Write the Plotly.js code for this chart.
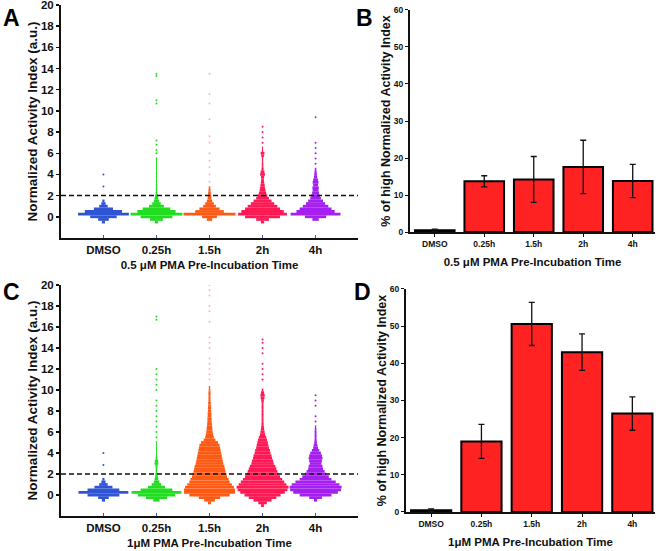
<!DOCTYPE html>
<html>
<head>
<meta charset="utf-8">
<script src="https://cdn.plot.ly/plotly-3.0.1.min.js"></script>
<style>html,body{margin:0;padding:0;background:#fff;}#chart{width:661px;height:551px;}</style>
</head>
<body>
<div id="chart"></div>
<script>
// ---------- DATA ----------
const categories = ['DMSO', '0.25h', '1.5h', '2h', '4h'];
const colors = ['#2f55d4', '#22dd22', '#ff5a14', '#ff1a55', '#a41ff0'];
const dotColors = ['#2f55d4', '#22dd22', 'rgba(240,120,140,0.55)', '#ff1a55', '#a41ff0'];
const threshold = 2;

// histogram levels (Normalized Activity Index), bin height 0.25
const levels = [-1.25, -1, -0.75, -0.5, -0.25, 0, 0.25, 0.5, 0.75, 1, 1.25, 1.5, 1.75, 2, 2.25, 2.5, 2.75, 3,
  3.25, 3.5, 3.75, 4, 4.25, 4.5, 4.75, 5, 5.25, 5.5, 5.75, 6, 6.25, 6.5, 6.75, 7, 7.25, 7.5, 7.75, 8,
  8.25, 8.5, 8.75, 9, 9.25, 9.5, 9.75, 10, 10.25, 10.5];

// Panel A (0.5 uM PMA): half-widths of each histogram level
const halfA_DMSO = [0, 0, 0, 0.03, 0.1, 0.25, 0.48, 0.35, 0.18, 0.08, 0.04, 0.02];
const halfA_025h = [0, 0, 0, 0.03, 0.12, 0.3, 0.49, 0.36, 0.26, 0.14, 0.08, 0.05, 0.035, 0.025, 0.015, 0.012, 0.012, 0.012,
  0.01, 0.01, 0.01, 0.01, 0.01, 0.01, 0.01, 0.01, 0.01, 0.01];
const halfA_15h = [0, 0, 0, 0, 0.05, 0.14, 0.49, 0.27, 0.19, 0.12, 0.08, 0.05, 0.035, 0.03, 0.025, 0.02, 0.015];
const halfA_2h = [0, 0, 0, 0.03, 0.12, 0.33, 0.46, 0.4, 0.33, 0.28, 0.22, 0.17, 0.12, 0.09, 0.07, 0.055, 0.045, 0.04,
  0.03, 0.025, 0.03, 0.045, 0.035, 0.02, 0.015, 0.015, 0.012, 0.012, 0.025, 0.035, 0.012, 0.01];
const halfA_4h = [0, 0, 0, 0, 0.06, 0.2, 0.47, 0.36, 0.3, 0.24, 0.18, 0.14, 0.1, 0.08, 0.065, 0.055, 0.06, 0.045,
  0.055, 0.045, 0.03, 0.025, 0.02, 0.015];
const outA_DMSO = [2.85, 4.0];
const outA_025h = [6.0, 6.3, 6.8, 7.2, 10.7, 11.0, 13.3, 13.5];
const outA_15h = [3.3, 4.0, 4.7, 5.3, 6.0, 7.0, 7.6, 9.2, 10.7, 11.6, 13.5];
const outA_2h = [7.0, 7.5, 8.0, 8.5];
const outA_4h = [5.0, 5.5, 6.0, 6.5, 7.0, 9.4];

// Panel C (1 uM PMA)
const halfC_DMSO = [0, 0, 0, 0.03, 0.1, 0.3, 0.47, 0.3, 0.17, 0.08, 0.04, 0.02];
const halfC_025h = [0, 0, 0, 0.06, 0.2, 0.35, 0.47, 0.3, 0.16, 0.09, 0.05, 0.035, 0.025, 0.02, 0.015, 0.015, 0.02, 0.035,
  0.03, 0.015, 0.012, 0.01, 0.01, 0.01, 0.01, 0.01];
const halfC_15h = [0, 0, 0.03, 0.1, 0.2, 0.38, 0.48, 0.48, 0.46, 0.42, 0.38, 0.36, 0.33, 0.32, 0.3, 0.29, 0.28, 0.26,
  0.25, 0.24, 0.23, 0.22, 0.21, 0.2, 0.19, 0.16, 0.11, 0.08, 0.07, 0.06, 0.055, 0.05, 0.045, 0.04, 0.04, 0.035,
  0.035, 0.03, 0.03, 0.025, 0.025, 0.02, 0.02, 0.02, 0.02, 0.015, 0.012];
const halfC_2h = [0, 0.03, 0.08, 0.17, 0.26, 0.34, 0.42, 0.47, 0.49, 0.45, 0.41, 0.37, 0.33, 0.3, 0.28, 0.26, 0.24, 0.21,
  0.2, 0.18, 0.17, 0.15, 0.14, 0.12, 0.11, 0.1, 0.085, 0.07, 0.05, 0.04, 0.03, 0.025, 0.02, 0.018, 0.018, 0.018,
  0.018, 0.018, 0.018, 0.018, 0.018, 0.025, 0.035, 0.04, 0.03, 0.015];
const halfC_4h = [0, 0, 0, 0.03, 0.12, 0.3, 0.42, 0.48, 0.49, 0.45, 0.38, 0.3, 0.25, 0.2, 0.17, 0.14, 0.13, 0.11,
  0.12, 0.13, 0.12, 0.1, 0.07, 0.045, 0.035, 0.025, 0.02, 0.018, 0.018, 0.018, 0.015, 0.012];
const outC_DMSO = [2.85, 4.0];
const outC_025h = [5.5, 6.0, 6.5, 7.0, 7.5, 8.0, 8.5, 9.0, 10.0, 10.5, 11.0, 11.5, 12.0, 16.7, 17.0];
const outC_15h = [11.0, 11.5, 12.0, 12.5, 13.0, 14.0, 14.5, 15.0, 16.5, 17.5, 18.0, 19.0, 19.5, 20.0];
const outC_2h = [11.0, 11.5, 12.0, 12.5, 13.5, 14.0, 14.5, 14.8];
const outC_4h = [7.0, 7.5, 8.5, 9.0, 9.5];

// Panels B and D: % of high Normalized Activity Index
const pctB = [0.5, 13.7, 14.2, 17.6, 13.8];
const errB = [0.3, 1.5, 6.2, 7.2, 4.5];
const pctD = [0.5, 19.0, 50.6, 43.0, 26.5];
const errD = [0.3, 4.6, 5.8, 4.9, 4.5];

// ---------- BUILD ----------
const FONT = 'Liberation Sans, Arial, sans-serif';
const traces = [];

function addViolins(halves, outs, xa, ya) {
  halves.forEach((h, i) => {
    const ys = [], xs = [], bs = [];
    h.forEach((w, k) => {
      if (w > 0) { ys.push(levels[k]); xs.push(2 * w); bs.push(i - w); }
    });
    traces.push({
      type: 'bar', orientation: 'h', y: ys, x: xs, base: bs, width: 0.26,
      marker: {color: colors[i], line: {width: 0}},
      xaxis: xa, yaxis: ya, hoverinfo: 'skip', showlegend: false
    });
    traces.push({
      type: 'scatter', mode: 'markers', x: outs[i].map(() => i), y: outs[i],
      marker: {color: dotColors[i], size: 2},
      xaxis: xa, yaxis: ya, hoverinfo: 'skip', showlegend: false
    });
  });
}
addViolins([halfA_DMSO, halfA_025h, halfA_15h, halfA_2h, halfA_4h],
           [outA_DMSO, outA_025h, outA_15h, outA_2h, outA_4h], 'x', 'y');
addViolins([halfC_DMSO, halfC_025h, halfC_15h, halfC_2h, halfC_4h],
           [outC_DMSO, outC_025h, outC_15h, outC_2h, outC_4h], 'x3', 'y3');

function addBars(vals, errs, xa, ya) {
  traces.push({
    type: 'bar', x: categories.map((c, i) => i), y: vals, width: 0.8,
    marker: {color: '#ff2222', line: {color: '#000', width: 2}},
    error_y: {type: 'data', array: errs, visible: true, color: '#111', thickness: 1.3, width: 3},
    xaxis: xa, yaxis: ya, hoverinfo: 'skip', showlegend: false
  });
}
addBars(pctB, errB, 'x2', 'y2');
addBars(pctD, errD, 'x4', 'y4');

const tickIdx = categories.map((c, i) => i);
function violinX(domain, anchor, title) {
  return {
    domain: domain, anchor: anchor, range: [-0.8, 4.8], showgrid: false, zeroline: false,
    showline: true, linecolor: '#111', linewidth: 2, ticks: 'inside', ticklen: 3, tickcolor: '#2f55d4',
    tickvals: tickIdx, ticktext: categories, ticklabeloverflow: 'allow',
    tickfont: {family: FONT, size: 11.5, weight: 'bold', color: '#111'},
    title: {text: title, font: {family: FONT, size: 11.5, weight: 'bold', color: '#111'}, standoff: 6}
  };
}
function violinY(domain, anchor) {
  return {
    domain: domain, anchor: anchor, range: [-2, 20], tickvals: [0, 2, 4, 6, 8, 10, 12, 14, 16, 18, 20],
    showgrid: false, zeroline: false, showline: true, linecolor: '#111', linewidth: 2,
    ticks: 'outside', ticklen: 3, tickwidth: 1.5, tickcolor: '#111', ticklabeloverflow: 'allow',
    tickfont: {family: FONT, size: 11.5, weight: 'bold', color: '#111'},
    title: {text: 'Normalized Activity Index (a.u.)', font: {family: FONT, size: 13.5, weight: 'bold', color: '#111'}, standoff: 0}
  };
}
function barX(domain, anchor, title) {
  return {
    domain: domain, anchor: anchor, range: [-0.5, 4.45], showgrid: false, zeroline: false,
    showline: true, linecolor: '#111', linewidth: 2, ticks: 'outside', ticklen: 3, tickcolor: '#111',
    tickvals: tickIdx, ticktext: categories, ticklabeloverflow: 'allow',
    tickfont: {family: FONT, size: 8.5, weight: 'bold', color: '#111'},
    title: {text: title, font: {family: FONT, size: 11.5, weight: 'bold', color: '#111'}, standoff: 10}
  };
}
function barY(domain, anchor) {
  return {
    domain: domain, anchor: anchor, range: [0, 60], dtick: 10, showgrid: false, zeroline: false,
    showline: true, linecolor: '#111', linewidth: 2, ticks: 'outside', ticklen: 3, tickcolor: '#111',
    ticklabeloverflow: 'allow',
    tickfont: {family: FONT, size: 8.5, weight: 'bold', color: '#111'},
    title: {text: '% of high Normalized Activity Index', font: {family: FONT, size: 12.5, weight: 'bold', color: '#111'}, standoff: 0}
  };
}

const dash = (xr, yr) => ({type: 'line', xref: xr + ' domain', x0: 0, x1: 1, yref: yr, y0: threshold, y1: threshold,
  line: {color: '#111', width: 1.5, dash: '5px,3px'}});
const letter = (t, x, y) => ({text: t, xref: 'paper', yref: 'paper', x: x, y: y, xanchor: 'left', yanchor: 'top',
  showarrow: false, font: {family: FONT, size: 23, weight: 'bold', color: '#000'}});

const layout = {
  width: 661, height: 551, margin: {l: 0, r: 0, t: 0, b: 0},
  paper_bgcolor: '#fff', plot_bgcolor: 'rgba(0,0,0,0)', barmode: 'overlay', showlegend: false,
  font: {family: FONT, color: '#111'},
  xaxis: violinX([0.0923, 0.5416], 'y', '0.5 μM PMA Pre-Incubation Time'),
  yaxis: violinY([0.5681, 0.9909], 'x'),
  xaxis2: barX([0.6203, 0.9909], 'y2', '0.5 μM PMA Pre-Incubation Time'),
  yaxis2: barY([0.5789, 0.9819], 'x2'),
  xaxis3: violinX([0.0923, 0.5416], 'y3', '1μM PMA Pre-Incubation Time'),
  yaxis3: violinY([0.0635, 0.4828], 'x3'),
  xaxis4: barX([0.6142, 0.9909], 'y4', '1μM PMA Pre-Incubation Time'),
  yaxis4: barY([0.0708, 0.4755], 'x4'),
  shapes: [dash('x', 'y'), dash('x3', 'y3')],
  annotations: [letter('A', 0.002, 0.995), letter('B', 0.535, 0.995), letter('C', 0.002, 0.497), letter('D', 0.533, 0.497)]
};

Plotly.newPlot('chart', traces, layout, {staticPlot: true, displayModeBar: false});
</script>
</body>
</html>
